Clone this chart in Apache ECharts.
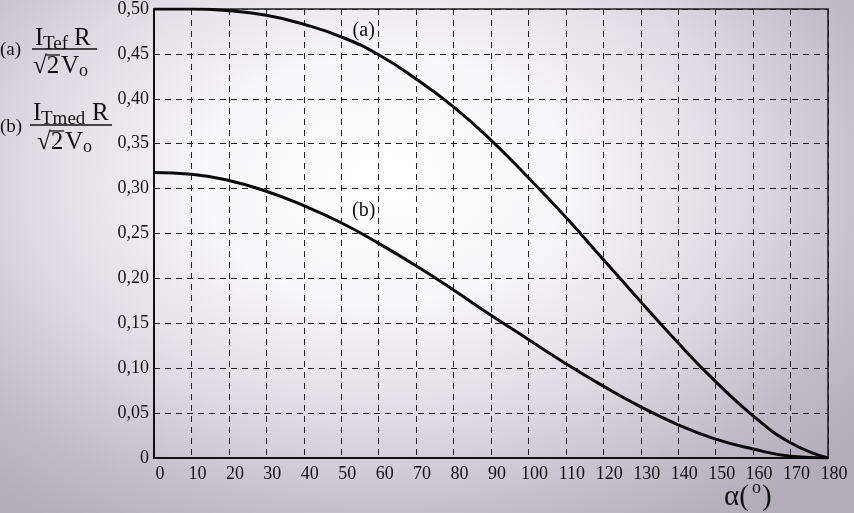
<!DOCTYPE html>
<html>
<head>
<meta charset="utf-8">
<script src="https://cdn.jsdelivr.net/npm/echarts@6/dist/echarts.min.js"></script>
<style>
html,body{margin:0;padding:0;}
#c{width:854px;height:513px;background:radial-gradient(ellipse 70% 80% at 45% 35%, #ffffff 0%, #f8f7f9 30%, #dedae2 60%, #c0bbc6 85%, #b3aeba 100%);}
</style>
</head>
<body>
<div id="c"></div>
<script>
// angle alpha (degrees)
const alpha = [0,10,20,30,40,50,60,70,80,90,100,110,120,130,140,150,160,170,180];
// (a) I_Tef R / (sqrt2 Vo)
const curveA = [0.500,0.500,0.498,0.493,0.483,0.469,0.449,0.422,0.391,0.354,0.312,0.268,0.221,0.174,0.128,0.085,0.047,0.017,0.000];
// (b) I_Tmed R / (sqrt2 Vo)
const curveB = [0.318,0.316,0.309,0.297,0.281,0.262,0.239,0.214,0.187,0.159,0.132,0.105,0.080,0.057,0.037,0.021,0.010,0.002,0.000];
const yTicks = [0,0.05,0.10,0.15,0.20,0.25,0.30,0.35,0.40,0.45,0.50];

const SERIF = '"Liberation Serif","Times New Roman",serif';
const chart = echarts.init(document.getElementById('c'));

function txt(s, x, y, size){
  return {type:'text', x:x, y:y, z:10,
    style:{text:s, font: size+'px '+SERIF, fill:'#111', verticalAlign:'middle', align:'left'}};
}
function bar(x1,x2,y){
  return {type:'line', z:10, shape:{x1:x1,y1:y,x2:x2,y2:y}, style:{stroke:'#111', lineWidth:1.3}};
}

const graphics = [
  // (a)
  txt('(a)', 0, 50, 19),
  txt('I', 35, 38, 25),
  txt('Tef', 43, 44, 19),
  txt('R', 74, 38, 25),
  bar(32, 97, 49),
  txt('\u221A2', 33, 66, 25),
  bar(46, 60, 55),
  txt('V', 61, 66, 25),
  txt('o', 79, 71, 18),
  // (b)
  txt('(b)', 0, 127, 19),
  txt('I', 33, 113, 25),
  txt('Tmed', 41, 119, 19),
  txt('R', 92, 113, 25),
  bar(30, 112, 125),
  txt('\u221A2', 37, 142, 25),
  bar(50, 64, 131),
  txt('V', 65, 142, 25),
  txt('o', 83, 147, 18),
  // axis name alpha(o)
  txt('\u03B1(', 724, 497, 29),
  txt('o', 752, 488, 18),
  txt(')', 762, 497, 29)
];

const option = {
  animation:false,
  backgroundColor:'transparent',
  grid:{left:154, right:26, top:4, bottom:55, show:true, borderColor:'#222', borderWidth:1.6},
  xAxis:{
    type:'value', min:0, max:180, interval:10,
    axisLine:{show:true, onZero:false, lineStyle:{color:'#111', width:2}},
    axisTick:{show:false},
    axisLabel:{color:'#111', fontFamily:SERIF, fontSize:18, margin:7, padding:[0,0,0,12]},
    splitLine:{show:true, lineStyle:{color:'#222', width:1, type:[6,5]}}
  },
  yAxis:{
    type:'value', min:0, max:0.5, interval:0.05,
    axisLine:{show:true, onZero:false, lineStyle:{color:'#111', width:2}},
    axisTick:{show:false},
    axisLabel:{color:'#111', fontFamily:SERIF, fontSize:18, margin:5,
      formatter:function(v){ return v===0 ? '0' : v.toFixed(2).replace('.',','); }},
    splitLine:{show:true, lineStyle:{color:'#222', width:1, type:[6,5]}}
  },
  series:[
    {type:'line', name:'(a)', data:alpha.map((a,i)=>[a,curveA[i]]), smooth:0.5, showSymbol:false,
      lineStyle:{color:'#0a0a0a', width:3}},
    {type:'line', name:'(b)', data:alpha.map((a,i)=>[a,curveB[i]]), smooth:0.5, showSymbol:false,
      lineStyle:{color:'#0a0a0a', width:3}}
  ],
  graphic: graphics
};
chart.setOption(option);

// curve labels placed through the axis scales
const pa = chart.convertToPixel({gridIndex:0}, [56, 0.476]);
const pb = chart.convertToPixel({gridIndex:0}, [56, 0.275]);
chart.setOption({graphic: graphics.concat([
  {type:'text', x:pa[0], y:pa[1], z:10, style:{text:'(a)', font:'20px '+SERIF, fill:'#111', align:'center', verticalAlign:'middle'}},
  {type:'text', x:pb[0], y:pb[1], z:10, style:{text:'(b)', font:'20px '+SERIF, fill:'#111', align:'center', verticalAlign:'middle'}}
])});
</script>
</body>
</html>
